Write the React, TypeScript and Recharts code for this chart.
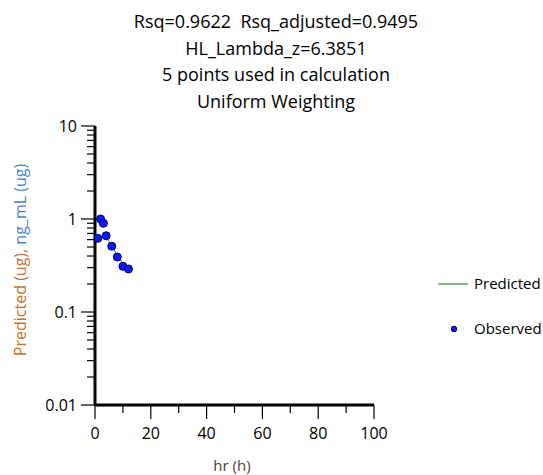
import React from "react";
import { ComposedChart, Line, Scatter, XAxis, YAxis, Customized } from "recharts";

// observed concentrations
const obsTimes = [1, 2, 3, 4, 6, 8, 10, 12];
const obsValues = [0.62, 1.0, 0.9, 0.66, 0.51, 0.39, 0.31, 0.29];

// terminal phase fit (5 points)
const predTimes = [4, 6, 8, 10, 12];
const predValues = [0.64, 0.51, 0.41, 0.33, 0.27];

const yMajorTicks = [0.01, 0.1, 1, 10];
const yMinorTicks = [
  0.02, 0.03, 0.04, 0.05, 0.06, 0.07, 0.08, 0.09,
  0.2, 0.3, 0.4, 0.5, 0.6, 0.7, 0.8, 0.9,
  2, 3, 4, 5, 6, 7, 8, 9,
];
const xMajorTicks = [0, 20, 40, 60, 80, 100];
const xMinorTicks = [10, 30, 50, 70, 90];

const titleLines = [
  "Rsq=0.9622  Rsq_adjusted=0.9495",
  "HL_Lambda_z=6.3851",
  "5 points used in calculation",
  "Uniform Weighting",
];

const FONT = "'Open Sans', sans-serif";

const obsData = obsTimes.map((t, i) => ({ t, c: obsValues[i] }));
const predData = predTimes.map((t, i) => ({ t, p: predValues[i] }));

const YTick = (props: any) => {
  const { x, y, payload } = props;
  const major = yMajorTicks.includes(payload.value);
  return (
    <g>
      <line x1={x - (major ? 14 : 8)} x2={x} y1={y} y2={y} stroke="#000" strokeWidth={1.2} />
      {major && (
        <text x={x - 18} y={y + 6} textAnchor="end" fontSize={16} fontFamily={FONT} fill="#000">
          {String(payload.value)}
        </text>
      )}
    </g>
  );
};

const XTick = (props: any) => {
  const { x, y, payload } = props;
  const major = xMajorTicks.includes(payload.value);
  return (
    <g>
      <line x1={x} x2={x} y1={y} y2={y + (major ? 14 : 8)} stroke="#000" strokeWidth={1.2} />
      {major && (
        <text x={x} y={y + 34} textAnchor="middle" fontSize={16} fontFamily={FONT} fill="#000">
          {String(payload.value)}
        </text>
      )}
    </g>
  );
};

const Decorations = () => (
  <g fontFamily={FONT}>
    {titleLines.map((s, i) => (
      <text
        key={s}
        x={276}
        y={28 + i * 26.5}
        textAnchor="middle"
        fontSize={18}
        fill="#000"
        style={{ whiteSpace: "pre" }}
      >
        {s}
      </text>
    ))}
    <text x={232} y={471} textAnchor="middle" fontSize={15}>
      <tspan fill="#3f3a36">hr </tspan>
      <tspan fill="#5a4632">(h)</tspan>
    </text>
    <text transform="translate(26, 260) rotate(-90)" textAnchor="middle" fontSize={16}>
      <tspan fill="#c0732a">Predicted (ug), </tspan>
      <tspan fill="#4a86c8">ng_mL (ug)</tspan>
    </text>
    <line x1={438} x2={468} y1={284} y2={284} stroke="#1a6e1a" strokeWidth={1} />
    <text x={474} y={289} fontSize={15} fill="#000">Predicted</text>
    <circle cx={454} cy={329} r={2.8} fill="#0a1aff" stroke="#000060" strokeWidth={1} />
    <text x={474} y={334} fontSize={15} fill="#000">Observed</text>
  </g>
);

export default function App() {
  return (
    <div style={{ position: "absolute", left: 0, top: 0, width: 543, height: 475, background: "#fff" }}>
      <ComposedChart width={543} height={475} margin={{ top: 126, right: 169, bottom: 0, left: 0 }}>
        <XAxis
          type="number"
          dataKey="t"
          domain={[0, 100]}
          ticks={[...xMajorTicks, ...xMinorTicks].sort((a, b) => a - b)}
          interval={0}
          height={70}
          tickSize={0}
          tickMargin={0}
          tickLine={false}
          axisLine={{ stroke: "#000", strokeWidth: 3 }}
          tick={<XTick />}
          allowDataOverflow
        />
        <YAxis
          type="number"
          scale="log"
          domain={[0.01, 10]}
          ticks={[...yMajorTicks, ...yMinorTicks].sort((a, b) => a - b)}
          interval={0}
          width={95}
          tickSize={0}
          tickMargin={0}
          tickLine={false}
          axisLine={{ stroke: "#000", strokeWidth: 3 }}
          tick={<YTick />}
          allowDataOverflow
        />
        <Line
          data={predData}
          dataKey="p"
          stroke="#1f8f1f"
          strokeWidth={1}
          dot={false}
          isAnimationActive={false}
        />
        <Scatter
          data={obsData}
          dataKey="c"
          fill="#0a1aff"
          stroke="#000060"
          strokeWidth={1}
          shape={(p: any) => <circle cx={p.cx} cy={p.cy} r={4} fill="#0a1aff" stroke="#000060" strokeWidth={1} />}
          isAnimationActive={false}
        />
        <Customized component={Decorations} />
      </ComposedChart>
    </div>
  );
}
